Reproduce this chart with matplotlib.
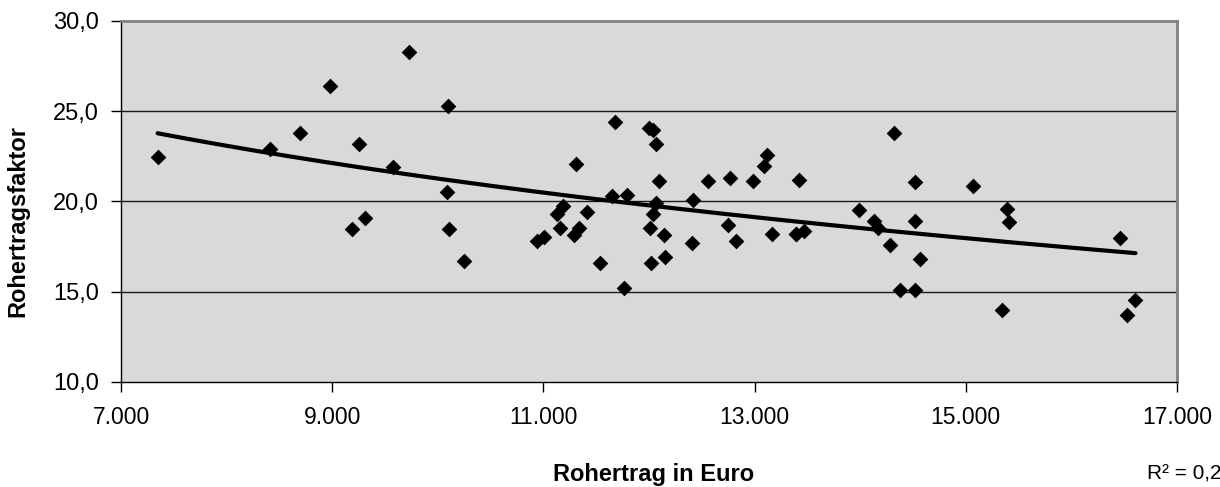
import numpy as np
import matplotlib
matplotlib.use("Agg")
import matplotlib.pyplot as plt
from matplotlib.ticker import FuncFormatter

plt.rcParams['font.family'] = ['Liberation Sans', 'DejaVu Sans']

rohertrag = [7347, 8414, 8698, 8976, 9184, 9257, 9307, 9573, 9724, 10084,
             10099, 10103, 10251, 10942, 11006, 11131, 11160, 11182, 11293, 11309,
             11334, 11409, 11537, 11650, 11678, 11763, 11792, 12003, 12041, 12012,
             12017, 12041, 12066, 12066, 12097, 12145, 12155, 12407, 12420, 12554,
             12751, 12767, 12827, 12985, 13089, 13114, 13163, 13389, 13422, 13468,
             13984, 14131, 14166, 14282, 14323, 14375, 14522, 14522, 14519, 14562,
             15064, 15342, 15393, 15412, 16462, 16522, 16607, 13392]
faktor = [22.48, 22.93, 23.80, 26.38, 18.49, 23.19, 19.09, 21.93, 28.28, 20.50,
          25.29, 18.49, 16.70, 17.80, 18.02, 19.31, 18.51, 19.73, 18.12, 22.09,
          18.55, 19.40, 16.61, 20.32, 24.39, 15.23, 20.34, 24.09, 23.96, 18.51,
          16.61, 19.31, 23.19, 19.93, 21.12, 18.12, 16.91, 17.70, 20.10, 21.12,
          18.71, 21.30, 17.81, 21.12, 21.97, 22.58, 18.20, 18.20, 21.19, 18.37,
          19.51, 18.94, 18.51, 17.61, 23.80, 15.10, 21.10, 18.90, 15.10, 16.80,
          20.88, 14.01, 19.57, 18.88, 18.00, 13.70, 14.53, 18.20]

x = np.array(rohertrag, dtype=float)
y = np.array(faktor, dtype=float)

# Logarithmic trendline (least squares y = a + b*ln x)
b, a = np.polyfit(np.log(x), y, 1)
xt = np.linspace(x.min(), x.max(), 200)
yt = a + b * np.log(xt)

fig = plt.figure(figsize=(12.2, 4.87), dpi=100)
ax = fig.add_axes([121/1220, 1 - 382/487, (1177-121)/1220, (382-21)/487])
ax.set_facecolor('#D9D9D9')

ax.set_xlim(7000, 17000)
ax.set_ylim(10, 30)
ax.set_xticks([7000, 9000, 11000, 13000, 15000, 17000])
ax.set_yticks([10, 15, 20, 25, 30])
ax.xaxis.set_major_formatter(FuncFormatter(lambda v, p: f"{int(v):,}".replace(",", ".")))
ax.yaxis.set_major_formatter(FuncFormatter(lambda v, p: f"{v:.1f}".replace(".", ",")))
ax.tick_params(axis='both', direction='out', length=7, width=1, colors='black')
ax.tick_params(axis='y', labelsize=17, pad=9)
ax.tick_params(axis='x', labelsize=16.5, pad=10)

for yy in [15, 20, 25]:
    ax.axhline(yy, color='#1a1a1a', lw=1.0, zorder=1)

for s in ['top', 'right']:
    ax.spines[s].set_color('#808080')
    ax.spines[s].set_linewidth(2)
for s in ['left', 'bottom']:
    ax.spines[s].set_color('black')
    ax.spines[s].set_linewidth(1)

ax.scatter(x, y, marker='D', s=64, color='black', zorder=3, linewidths=0)
ax.plot(xt, yt, color='black', lw=3, zorder=4, solid_capstyle='round')

fig.text(654/1220, 1 - 475/487, 'Rohertrag in Euro', fontsize=17, fontweight='bold',
         ha='center', va='center')
fig.text(18/1220, 1 - 221/487, 'Rohertragsfaktor', fontsize=17, fontweight='bold',
         ha='center', va='center', rotation=90)

fig.text(1147/1220, 1 - 474/487, 'R² = 0,2', fontsize=15, va='center', ha='left')

fig.savefig('out.png', dpi=100)
